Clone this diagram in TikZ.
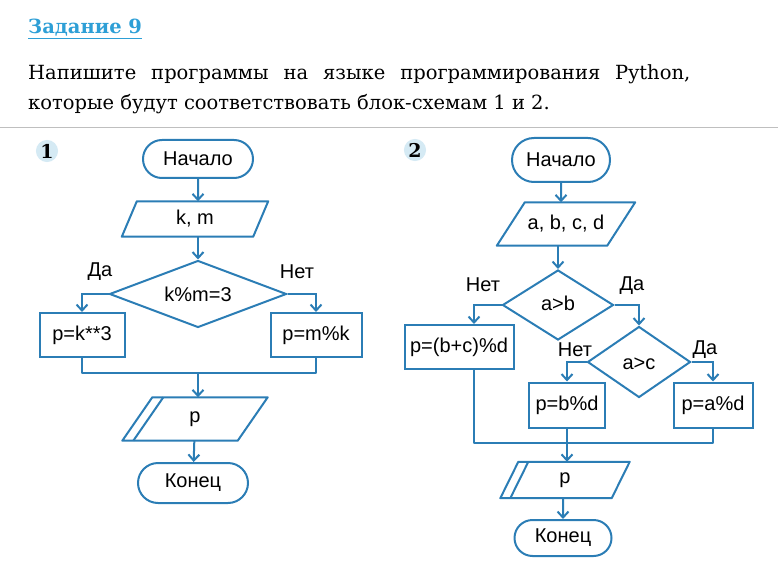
\documentclass[tikz,border=0pt]{standalone}
\usepackage{fontspec}
\setmainfont{DejaVu Serif}
\newfontfamily\chartfont{Liberation Sans}
\usetikzlibrary{arrows.meta,shapes.geometric,shapes.misc}

\definecolor{lineblue}{HTML}{2B7DB5}
\definecolor{titleblue}{HTML}{2E9FD6}
\definecolor{badge}{HTML}{D5EAF4}

\tikzset{
  every node/.style={font=\chartfont\fontsize{20}{22}\selectfont},
  term/.style={draw=lineblue, line width=2pt, rounded rectangle, inner sep=0pt},
  io/.style={rectangle, inner sep=0pt},
  proc/.style={draw=lineblue, line width=2pt, rectangle, inner sep=0pt},
  cond/.style={draw=lineblue, line width=2pt, diamond, inner sep=0pt},
  flow/.style={draw=lineblue, line width=2pt, -{Straight Barb[length=6pt,width=11pt,line width=2pt]}},
  link/.style={draw=lineblue, line width=2pt, line join=round},
  badgenum/.style={circle, fill=badge, inner sep=1pt, minimum size=22pt, font=\bfseries\fontsize{19}{20}\selectfont},
}
% parallelogram around an io node: node, slant
\newcommand{\slantbox}[2]{\draw[link] ([xshift=#2]#1.north west) -- (#1.north east) -- ([xshift=-#2]#1.south east) -- (#1.south west) -- cycle;}

\begin{document}
\begin{tikzpicture}[x=1pt, y=-1pt]
  \useasboundingbox (0,0) rectangle (778,577);

  % Header
  \node[anchor=base west, inner sep=0pt, text=titleblue, font=\bfseries\fontsize{19.5}{20}\selectfont] (title) at (28,34) {\underline{Задание 9}};
  \node[anchor=base west, inner sep=0pt, font=\fontsize{19.5}{20}\selectfont] (task1) at (28,80)
    {\makebox[662pt][s]{Напишите программы на языке программирования Python,}};
  \node[anchor=base west, inner sep=0pt, font=\fontsize{19.5}{20}\selectfont] (task2) at (28,110)
    {которые будут соответствовать блок-схемам 1 и 2.};
  \draw[black!25, line width=0.8pt] (0,127) -- (778,127);

  % Chart 1
  \node[badgenum] (n1) at (47,151) {1};
  \node[term, minimum width=110pt, minimum height=38pt] (s1) at (198,159) {Начало};
  \node[io, minimum width=146pt, minimum height=35pt] (in1) at (195,219) {k, m};
  \slantbox{in1}{15pt}
  \node[cond, minimum width=177pt, minimum height=67pt] (c1) at (198,294) {};
  \node at (198,294) {k\%m=3};
  \node[proc, minimum width=85pt, minimum height=44pt] (pa) at (82,335) {p=k**3};
  \node[proc, minimum width=91pt, minimum height=44pt] (pb) at (316,335) {p=m\%k};
  \coordinate (m1) at (198,373);
  \node[io, minimum width=145pt, minimum height=43pt] (out1) at (195,419) {p};
  \slantbox{out1}{30pt}
  \draw[link] ([xshift=41pt]out1.north west) -- ([xshift=11pt]out1.south west);
  \node[term, minimum width=110pt, minimum height=40pt] (e1) at (193,483) {Конец};
  \node (ya1) at (100,272) {Да};
  \node (no1) at (297,272) {Нет};

  \draw[flow] (s1) -- (in1.north -| s1);
  \draw[flow] (in1.south -| c1) -- (c1);
  \draw[flow] (c1.west) -| (pa.north);
  \draw[flow] (c1.east) -| (pb.north);
  \draw[link] (pa.south) |- (m1) -| (pb.south);
  \draw[flow] (m1) -- (out1.north -| m1);
  \draw[flow] (out1) -- (e1);

  % Chart 2
  \node[badgenum] (n2) at (415,150) {2};
  \node[term, minimum width=98pt, minimum height=44pt] (s2) at (561,160) {Начало};
  \node[io, minimum width=138pt, minimum height=43pt] (in2) at (566,224) {a, b, c, d};
  \slantbox{in2}{28pt}
  \node[cond, minimum width=111pt, minimum height=70pt] (c2) at (558,305) {};
  \node at (558,303) {a>b};
  \node[proc, minimum width=109pt, minimum height=44pt] (pc) at (459,347) {p=(b+c)\%d};
  \node[cond, minimum width=103pt, minimum height=71pt] (c3) at (639,362) {};
  \node at (639,364) {a>c};
  \node[proc, minimum width=76pt, minimum height=45pt] (pd) at (567,405) {p=b\%d};
  \node[proc, minimum width=79pt, minimum height=45pt] (pe) at (713,405) {p=a\%d};
  \coordinate (m2) at (567,443);
  \node[io, minimum width=129pt, minimum height=36pt] (out2) at (565,480) {p};
  \slantbox{out2}{18pt}
  \draw[link] ([xshift=28pt]out2.north west) -- ([xshift=10pt]out2.south west);
  \node[term, minimum width=97pt, minimum height=36pt] (e2) at (563,538) {Конец};
  \node (no2) at (483,285) {Нет};
  \node (ya2) at (632,286) {Да};
  \node (no3) at (575,350) {Нет};
  \node (ya3) at (705,350) {Да};

  \draw[flow] (s2) -- (in2.north -| s2);
  \draw[flow] (in2.south -| c2) -- (c2);
  \draw[flow] (c2.west) -| ([xshift=15pt]pc.north);
  \draw[flow] (c2.east) -| (c3.north);
  \draw[flow] (c3.west) -| (pd.north);
  \draw[flow] (c3.east) -| (pe.north);
  \draw[link] ([xshift=15pt]pc.south) |- (m2) -| (pe.south);
  \draw[link] (pd.south) -- (m2);
  \draw[flow] (m2) -- (out2.north -| m2);
  \draw[flow] (out2.south -| e2) -- (e2);
\end{tikzpicture}
\end{document}
